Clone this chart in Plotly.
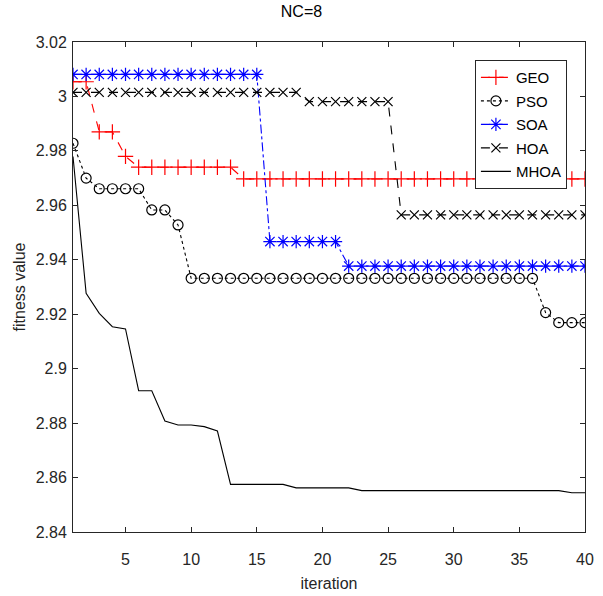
import plotly.graph_objects as go

# Convergence curves: best fitness value per iteration (NC=8)
iterations = list(range(1, 41))

geo = [3.0054, 3.0054, 2.9870, 2.9870, 2.9780] + [2.9740] * 8 + [2.9697] * 27
pso = [2.9828, 2.9700, 2.9661, 2.9661, 2.9661, 2.9661, 2.9583, 2.9583, 2.9528] \
    + [2.9332] * 27 + [2.9206, 2.9169, 2.9169, 2.9169]
soa = [3.0081] * 15 + [2.9467] * 6 + [2.9377] * 19
hoa = [3.0015] * 18 + [2.9981] * 7 + [2.9565] * 15
mhoa = [2.9779, 2.9277, 2.9203, 2.9154, 2.9146, 2.8919, 2.8919, 2.8808, 2.8793,
        2.8793, 2.8787, 2.8771, 2.8575, 2.8575, 2.8575, 2.8575, 2.8575, 2.8562,
        2.8562, 2.8562, 2.8562, 2.8562] + [2.8552] * 16 + [2.8544, 2.8544]

x_ticks = [5, 10, 15, 20, 25, 30, 35, 40]
y_ticks = [2.84, 2.86, 2.88, 2.90, 2.92, 2.94, 2.96, 2.98, 3.00, 3.02]
y_tick_text = ["2.84", "2.86", "2.88", "2.9", "2.92", "2.94", "2.96", "2.98", "3", "3.02"]

series = [
    ("GEO", geo, "#ff0000", "dash", "cross-thin-open", 11),
    ("PSO", pso, "#000000", "dot", "circle-open", 10),
    ("SOA", soa, "#0000ff", "dashdot", "asterisk-open", 11),
    ("HOA", hoa, "#000000", "dash", "x-thin-open", 9),
    ("MHOA", mhoa, "#000000", "solid", None, 0),
]

FONT = "Liberation Sans, Arial, sans-serif"
TEXT_COLOR = "#262626"

fig = go.Figure()
for i, (name, values, color, dash, symbol, size) in enumerate(series):
    kw = dict(mode="lines+markers",
              marker=dict(symbol=symbol, size=size, color=color,
                          line=dict(color=color, width=1.2))) if symbol else dict(mode="lines")
    fig.add_trace(go.Scatter(
        x=iterations, y=values, name=name, legendgroup=f"g{i}",
        line=dict(color=color, dash=dash, width=1.1),
        **kw,
    ))

axis_common = dict(
    showline=True, linecolor=TEXT_COLOR, linewidth=1, mirror="ticks",
    ticks="inside", ticklen=5, tickcolor=TEXT_COLOR, showgrid=False, zeroline=False,
    tickfont=dict(family=FONT, size=16, color=TEXT_COLOR), automargin=False,
)

fig.update_xaxes(range=[1, 40], tickvals=x_ticks, ticklabelstandoff=13,
                 title=dict(text="iteration", standoff=10,
                            font=dict(family=FONT, size=16, color=TEXT_COLOR)),
                 **axis_common)
fig.update_yaxes(range=[2.84, 3.02], tickvals=y_ticks, ticktext=y_tick_text,
                 ticklabelstandoff=2,
                 title=dict(text="fitness value", standoff=6,
                            font=dict(family=FONT, size=16, color=TEXT_COLOR)),
                 **axis_common)

fig.update_layout(
    width=603, height=596,
    margin=dict(l=73, r=18, t=42, b=64),
    paper_bgcolor="white", plot_bgcolor="white",
    title=dict(text="NC=8", x=0.5, xanchor="center", y=0.99, yanchor="top",
               font=dict(family=FONT, size=16, color="#000000")),
    legend=dict(x=0.785, y=0.963, xanchor="left", yanchor="top",
                bgcolor="white", bordercolor=TEXT_COLOR, borderwidth=1,
                tracegroupgap=1, itemwidth=30,
                font=dict(family=FONT, size=15, color="#000000")),
    showlegend=True,
)

fig.write_html("out.html")
